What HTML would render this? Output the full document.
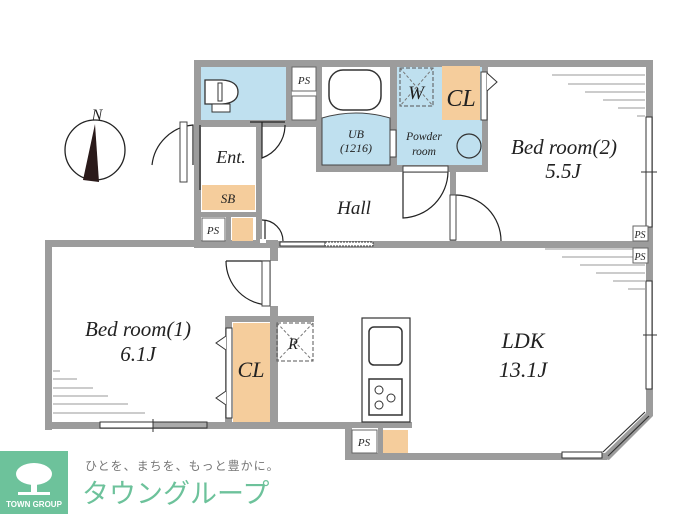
<!DOCTYPE html>
<html><head><meta charset="utf-8"><style>
html,body{margin:0;padding:0;background:#fff;width:700px;height:514px;overflow:hidden}
svg{display:block}
.t{font-family:"Liberation Serif",serif;font-style:italic;fill:#222}
</style></head><body>
<svg width="700" height="514" viewBox="0 0 700 514" xmlns="http://www.w3.org/2000/svg">
<g fill="#9c9c9c">
<rect x="194" y="60" width="459" height="7"/>
<rect x="194" y="60" width="7" height="188"/>
<rect x="646" y="60" width="7" height="352"/>
<rect x="194" y="241" width="459" height="7"/>
<rect x="45" y="240" width="233" height="7"/>
<rect x="45" y="240" width="7" height="190"/>
<rect x="45" y="422" width="307" height="7"/>
<rect x="345" y="422" width="7" height="38"/>
<rect x="345" y="453" width="262" height="7"/>
<polygon points="646,410 653,410 653,416 609,460 600,458 600,453 605,453 646,413"/>
<rect x="340" y="422" width="72" height="6"/>
<rect x="201" y="120" width="115" height="7"/>
<rect x="286" y="66" width="6" height="60"/>
<rect x="316" y="60" width="6" height="112"/>
<rect x="316" y="165" width="172" height="7"/>
<rect x="390" y="60" width="7" height="112"/>
<rect x="482" y="60" width="6" height="112"/>
<rect x="436" y="120" width="50" height="6"/>
<rect x="256" y="125" width="6" height="116"/>
<rect x="450" y="172" width="6" height="70"/>
<rect x="270" y="247" width="8" height="14"/>
<rect x="270" y="306" width="8" height="120"/>
<rect x="225" y="316" width="89" height="6"/>
<rect x="225" y="316" width="7" height="108"/>
<rect x="201" y="212" width="56" height="5"/>
<rect x="226" y="216" width="5" height="26"/>
<rect x="378" y="428" width="5" height="26"/>
<rect x="630" y="241" width="16" height="7"/>
</g>
<rect x="201" y="67" width="85" height="53" fill="#bfe0ef"/>
<rect x="292" y="67" width="24" height="24" fill="#fff" stroke="#666" stroke-width="1"/>
<text x="304" y="84" class="t" font-size="11" text-anchor="middle">PS</text>
<rect x="292" y="96" width="24" height="24" fill="#fff" stroke="#666" stroke-width="1"/>
<path d="M322 118 Q356 108 390 118 L390 165 L322 165Z" fill="#bfe0ef" stroke="#444" stroke-width="1"/>
<rect x="329" y="70" width="52" height="40" rx="14" fill="#fff" stroke="#333" stroke-width="1.5"/>
<rect x="397" y="67" width="85" height="98" fill="#bfe0ef"/>
<rect x="400" y="68" width="33" height="38" fill="none" stroke="#555" stroke-dasharray="4,2"/>
<path d="M400 68L433 106M433 68L400 106" stroke="#777" stroke-dasharray="3,2"/>
<text x="416" y="99" class="t" font-size="19" text-anchor="middle">W</text>
<rect x="442" y="66" width="38" height="54" fill="#f5cd9c"/>
<text x="461" y="106" class="t" font-size="24" text-anchor="middle">CL</text>
<rect x="481" y="72" width="6" height="48" fill="#fff" stroke="#444" stroke-width="1"/>
<path d="M487 73L497 82L487 91" fill="#fff" stroke="#333"/>
<circle cx="469" cy="146" r="12" fill="#bfe0ef" stroke="#333" stroke-width="1.2"/>
<rect x="390" y="130" width="6" height="27" fill="#fff" stroke="#444" stroke-width="1"/>
<text x="356" y="138" class="t" font-size="12" text-anchor="middle">UB</text>
<text x="356" y="152" class="t" font-size="12" text-anchor="middle">(1216)</text>
<text x="424" y="140" class="t" font-size="11.5" text-anchor="middle">Powder</text>
<text x="424" y="155" class="t" font-size="11.5" text-anchor="middle">room</text>
<path d="M205 80 L222 80 Q238 81 238 92 Q238 103 222 104 L205 104Z" fill="#fff" stroke="#333" stroke-width="1.3"/>
<rect x="212" y="104" width="18" height="8" fill="#fff" stroke="#333"/>
<rect x="218" y="83" width="4" height="18" fill="none" stroke="#333"/>
<rect x="202" y="185" width="53" height="25" fill="#f5cd9c"/>
<text x="228" y="203" class="t" font-size="13" text-anchor="middle">SB</text>
<rect x="202" y="218" width="23" height="23" fill="#fff" stroke="#666"/>
<text x="213" y="234" class="t" font-size="11" text-anchor="middle">PS</text>
<rect x="232" y="218" width="21" height="23" fill="#f5cd9c"/>
<text x="231" y="163" class="t" font-size="18" text-anchor="middle">Ent.</text>
<text x="354" y="214" class="t" font-size="19" text-anchor="middle">Hall</text>
<g fill="none" stroke="#222" stroke-width="1.2">
<path d="M262 122 L262 158 A35 35 0 0 0 285 125"/>
<path d="M250 122 L285 122"/>
<path d="M265 220 L265 241 M262 220 A21 21 0 0 1 283 241"/>
<path d="M403 172 L403 218 A47 47 0 0 0 448 172 M403 172 L448 172"/>
<path d="M456 195 A46 46 0 0 1 501 241"/>
<path d="M226 261 L270 261 L270 305 A44 44 0 0 1 226 261"/>
<path d="M200 125 L200 190" />
<path d="M152 165 A45 45 0 0 1 193 125 L193 165"/>
</g>
<rect x="180" y="122" width="7" height="60" fill="#fff" stroke="#444"/>
<rect x="262" y="261" width="8" height="45" fill="#fff" stroke="#444"/>
<rect x="450" y="195" width="6" height="45" fill="#fff" stroke="#444"/>
<rect x="403" y="166" width="45" height="6" fill="#fff" stroke="#444"/>
<rect x="260" y="239" width="6" height="4" fill="#fff"/>
<rect x="280" y="242" width="45" height="4" fill="#fff" stroke="#333"/>
<rect x="325" y="242" width="48" height="4" fill="#fff" stroke="#333" stroke-dasharray="2,1"/>
<circle cx="95" cy="150" r="30" fill="#fff" stroke="#222" stroke-width="1.3"/>
<polygon points="95,124 83,180 99,182" fill="#2a1a1a"/>
<text x="97" y="120" class="t" font-size="16" text-anchor="middle">N</text>
<text x="564" y="154" class="t" font-size="21" text-anchor="middle">Bed room(2)</text>
<text x="563" y="178" class="t" font-size="21" text-anchor="middle">5.5J</text>
<g stroke="#999" stroke-width="1">
<path d="M552 75H645M568 84H645M585 92H645M603 100H645M618 108H645M637 116H645"/>
<path d="M545 249H645M562 257H645M580 265H645M596 273H645M613 281H645M628 289H645"/>
<path d="M53 371H60M53 379H77M53 388H93M53 396H108M53 404H128M53 413H145"/>
</g>
<rect x="646" y="117" width="6" height="110" fill="#fff" stroke="#333"/>
<path d="M641 172H657" stroke="#333"/>
<rect x="633" y="226" width="15" height="15" fill="#fff" stroke="#666"/>
<text x="640" y="238" class="t" font-size="10" text-anchor="middle">PS</text>
<rect x="633" y="248" width="15" height="15" fill="#fff" stroke="#666"/>
<text x="640" y="260" class="t" font-size="10" text-anchor="middle">PS</text>
<rect x="646" y="281" width="6" height="108" fill="#fff" stroke="#333"/>
<path d="M643 335H657" stroke="#333"/>
<text x="523" y="348" class="t" font-size="22" text-anchor="middle">LDK</text>
<text x="523" y="377" class="t" font-size="22" text-anchor="middle">13.1J</text>
<rect x="362" y="318" width="48" height="104" fill="#fff" stroke="#333" stroke-width="1.2"/>
<rect x="369" y="327" width="33" height="38" rx="5" fill="#fff" stroke="#333" stroke-width="1.5"/>
<rect x="369" y="379" width="33" height="36" fill="#fff" stroke="#333" stroke-width="1.5"/>
<g fill="none" stroke="#333"><circle cx="379" cy="390" r="4"/><circle cx="391" cy="398" r="4"/><circle cx="379" cy="405" r="4"/></g>
<rect x="352" y="430" width="25" height="23" fill="#fff" stroke="#666"/>
<text x="364" y="446" class="t" font-size="11" text-anchor="middle">PS</text>
<rect x="383" y="430" width="25" height="23" fill="#f5cd9c"/>
<rect x="562" y="452" width="40" height="6" fill="#fff" stroke="#333"/>
<path d="M603 452 L645 412 M608 456 L649 416" stroke="#333" stroke-width="1.2"/>
<text x="138" y="336" class="t" font-size="21" text-anchor="middle">Bed room(1)</text>
<text x="138" y="361" class="t" font-size="21" text-anchor="middle">6.1J</text>
<rect x="233" y="323" width="37" height="99" fill="#f5cd9c"/>
<text x="251" y="377" class="t" font-size="22" text-anchor="middle">CL</text>
<rect x="226" y="328" width="6" height="90" fill="#fff" stroke="#333"/>
<path d="M226 336L216 343L226 350M226 391L216 398L226 405" fill="#fff" stroke="#333"/>
<rect x="277" y="323" width="36" height="38" fill="none" stroke="#555" stroke-dasharray="4,2"/>
<path d="M277 323L313 361M313 323L277 361" stroke="#777" stroke-dasharray="3,2"/>
<text x="293" y="349" class="t" font-size="16" text-anchor="middle">R</text>
<rect x="100" y="422" width="53" height="6" fill="#fff" stroke="#333"/>
<rect x="153" y="422" width="54" height="6" fill="#aaa" stroke="#333"/>
<path d="M153 419V432" stroke="#333"/>
<rect x="0" y="451" width="68" height="63" fill="#6dc29b"/>
<ellipse cx="34" cy="474" rx="18" ry="11" fill="#fff"/>
<rect x="31" y="478" width="6" height="15" fill="#fff"/>
<rect x="18" y="492" width="32" height="3" fill="#fff"/>
<text x="34" y="507" font-family="Liberation Sans,sans-serif" font-weight="bold" font-size="8" fill="#fff" text-anchor="middle">TOWN GROUP</text>
<text x="85" y="470" font-family="'Liberation Sans','Noto Sans CJK JP',sans-serif" font-size="12" fill="#777" letter-spacing="1">ひとを、まちを、もっと豊かに。</text>
<text x="82" y="503" font-family="'Liberation Sans','Noto Sans CJK JP',sans-serif" font-size="27" fill="#6dc29b">タウングループ</text>
</svg>
</body></html>
